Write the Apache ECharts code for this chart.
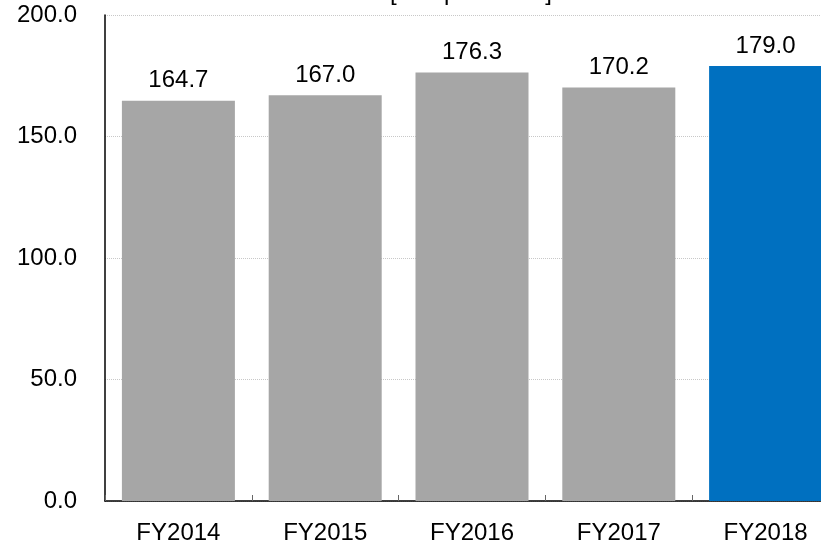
<!DOCTYPE html>
<html>
<head>
<meta charset="utf-8">
<script src="https://cdn.jsdelivr.net/npm/echarts@6/dist/echarts.min.js"></script>
<style>
  html, body { margin: 0; padding: 0; background: #fff; overflow: hidden; }
  #chart { width: 839px; height: 541px; }
</style>
</head>
<body>
<div id="chart"></div>
<script>
const years = ['FY2014', 'FY2015', 'FY2016', 'FY2017', 'FY2018']
const values = [164.7, 167.0, 176.3, 170.2, 179.0]
const barColors = ['#a6a6a6', '#a6a6a6', '#a6a6a6', '#a6a6a6', '#0070c0']
const titleText = '[Yen per share]'

// the plot runs past the right edge of the window, like the reference
const chart = echarts.init(document.getElementById('chart'))
const font = '"Liberation Sans", Arial, sans-serif'

const option = {
  animation: false,
  title: {
    text: titleText,
    left: 466,
    top: -24,
    textAlign: 'center',
    textStyle: { fontFamily: font, fontSize: 24, fontWeight: 'normal', color: '#000' }
  },
  grid: { left: 105, top: 15, right: 0, bottom: 40, containLabel: false, outerBoundsMode: 'none' },
  xAxis: {
    type: 'category',
    data: years,
    axisLine: { lineStyle: { color: '#000', width: 1.5 } },
    axisTick: { show: true, inside: true, length: 6, lineStyle: { color: '#666' } },
    axisLabel: { fontFamily: font, fontSize: 24, color: '#000', margin: 20 }
  },
  yAxis: {
    type: 'value',
    min: 0,
    max: 200,
    interval: 50,
    axisLine: { show: true, lineStyle: { color: '#000', width: 1.5 } },
    axisTick: { show: false },
    splitLine: { lineStyle: { color: '#c8c8c8', type: [1, 1] } },
    axisLabel: {
      fontFamily: font, fontSize: 24, color: '#000', margin: 28,
      formatter: v => v.toFixed(1)
    }
  },
  series: [{
    type: 'bar',
    barWidth: 113,
    data: values.map((v, i) => ({ value: v, itemStyle: { color: barColors[i] } })),
    label: {
      show: true,
      position: 'top',
      distance: 8,
      fontFamily: font,
      fontSize: 24,
      color: '#000',
      formatter: p => p.value.toFixed(1)
    }
  }]
}
chart.setOption(option)
</script>
</body>
</html>
